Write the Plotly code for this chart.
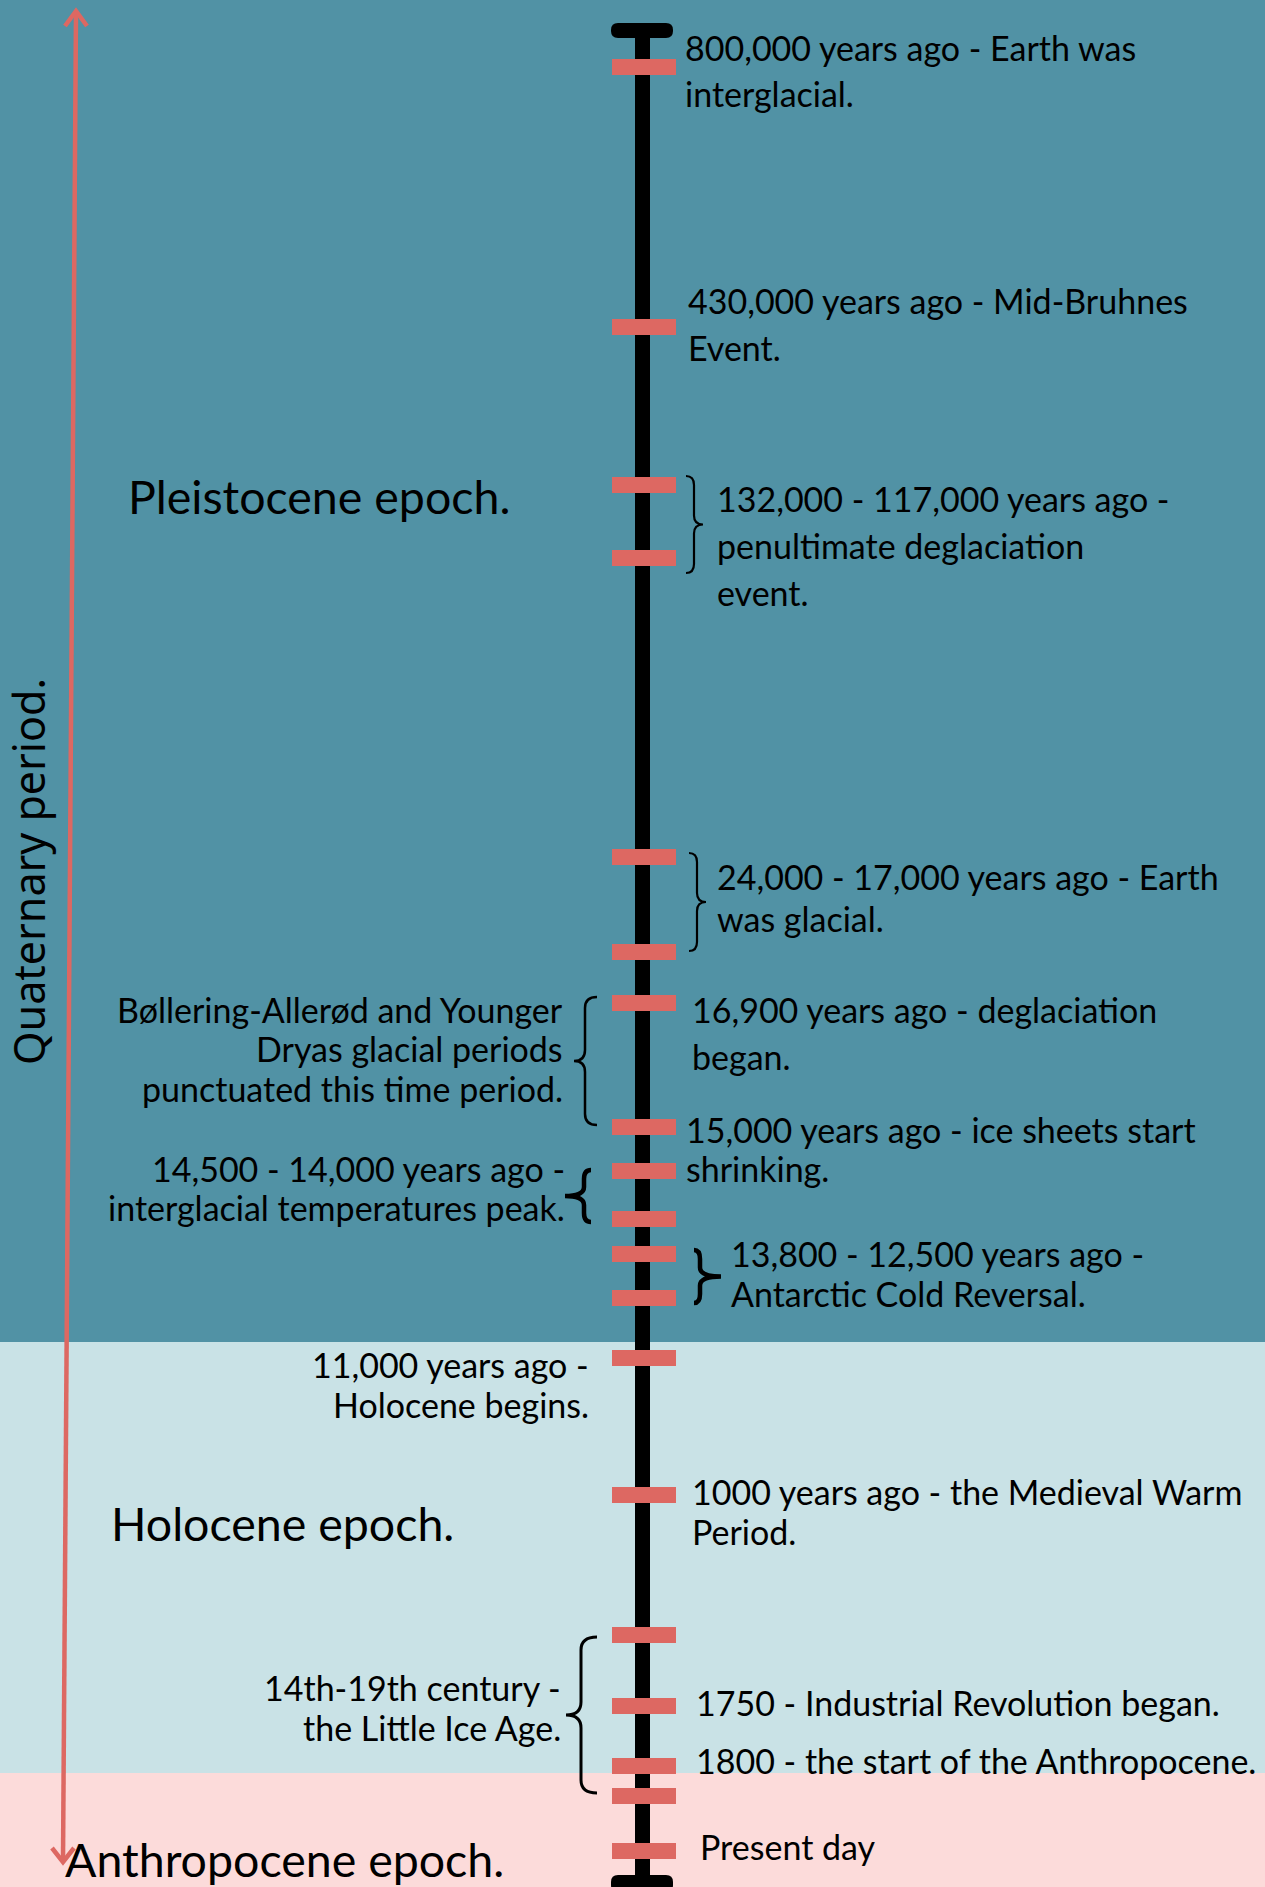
import plotly.graph_objects as go

W, H = 1265, 1887

# ---------------- data ----------------
# positions of event markers along the timeline (timeline units, top = 0)
tick_positions = [67, 327, 485, 558, 857, 952, 1003, 1127, 1171, 1219,
                  1254, 1298, 1358, 1495, 1635, 1706, 1766, 1796, 1851]

epoch_names = ["Pleistocene epoch.", "Holocene epoch.", "Anthropocene epoch."]
epoch_bounds = [0, 1342, 1773, 1887]
epoch_colors = ["#5192A5", "#C9E2E6", "#FCDBDA"]

right_texts = [
    ["800,000 years ago - Earth was", "interglacial."],
    ["430,000 years ago - Mid-Bruhnes", "Event."],
    ["132,000 - 117,000 years ago -", "penultimate deglaciation", "event."],
    ["24,000 - 17,000 years ago - Earth", "was glacial."],
    ["16,900 years ago - deglaciation", "began."],
    ["15,000 years ago - ice sheets start", "shrinking."],
    ["13,800 - 12,500 years ago -", "Antarctic Cold Reversal."],
    ["1000 years ago - the Medieval Warm", "Period."],
    ["1750 - Industrial Revolution began."],
    ["1800 - the start of the Anthropocene."],
    ["Present day"],
]
left_texts = [
    ["Bøllering-Allerød and Younger", "Dryas glacial periods", "punctuated this time period."],
    ["14,500 - 14,000 years ago -", "interglacial temperatures peak."],
    ["11,000 years ago -", "Holocene begins."],
    ["14th-19th century -", "the Little Ice Age."],
]
period_name = "Quaternary period."

# ---------------- layout (positions / styles) ----------------
# (x, first line y, line spacing)
right_layout = [
    (683, 47.5, 45.5), (686, 300.5, 47), (715, 498.5, 47), (715, 876.5, 41.5),
    (690, 1009, 47), (684, 1129, 39), (729, 1253, 40), (690, 1491.5, 40),
    (694, 1702.5, 0), (694, 1760.5, 0), (698, 1846.5, 0),
]
left_layout = [
    (565, 1009, 39.5), (567, 1168.5, 39), (591, 1364, 40), (563, 1687, 40),
]
epoch_label_layout = [(126, 496), (109, 1523), (63, 1859)]

TEXT_FONT = dict(family="Lato, 'Noto Sans', sans-serif", size=34, color="#000000")
BIG_FONT = dict(family="Lato, 'Noto Sans', sans-serif", size=46.5, color="#000000")
RED = "#DD6862"

fig = go.Figure()

# event markers
fig.add_trace(go.Bar(
    y=tick_positions, x=[64] * len(tick_positions), base=612,
    orientation="h", width=16, marker=dict(color=RED, line=dict(width=0)),
    hoverinfo="skip", showlegend=False,
))

shapes = []
# epoch bands
for i in range(len(epoch_names)):
    shapes.append(dict(type="rect", xref="x", yref="y", x0=0, x1=W,
                       y0=epoch_bounds[i], y1=epoch_bounds[i + 1],
                       fillcolor=epoch_colors[i], line=dict(width=0), layer="below"))
# timeline spine
shapes.append(dict(type="line", xref="x", yref="y", x0=642.5, x1=642.5, y0=30, y1=1884,
                   line=dict(color="black", width=15), layer="below"))


def rounded_rect(x0, x1, y0, y1, r):
    return (f"M{x0+r},{y0} L{x1-r},{y0} Q{x1},{y0} {x1},{y0+r} L{x1},{y1-r} "
            f"Q{x1},{y1} {x1-r},{y1} L{x0+r},{y1} Q{x0},{y1} {x0},{y1-r} "
            f"L{x0},{y0+r} Q{x0},{y0} {x0+r},{y0} Z")


for (y0, y1) in [(23, 38), (1875, 1892)]:
    shapes.append(dict(type="path", xref="x", yref="y", path=rounded_rect(611, 673, y0, y1, 7),
                       fillcolor="black", line=dict(width=0), layer="below"))


def brace(x_end, x_body, x_tip, y_top, y_bot, r):
    ym = (y_top + y_bot) / 2
    return (f"M{x_end},{y_top} Q{x_body},{y_top} {x_body},{y_top + r} "
            f"L{x_body},{ym - r} Q{x_body},{ym} {x_tip},{ym} "
            f"Q{x_body},{ym} {x_body},{ym + r} "
            f"L{x_body},{y_bot - r} Q{x_body},{y_bot} {x_end},{y_bot}")


braces = [
    (686, 694, 703, 476, 573, 9, 2.2),
    (689, 697, 706, 853, 951, 9, 2.2),
    (597, 585, 574, 997, 1125, 11, 2.5),
    (591, 584, 565, 1170, 1222, 9, 4.5),
    (694, 700, 721, 1250, 1303, 9, 4.5),
    (597, 581, 566, 1637, 1793, 13, 3),
]
for xe, xb, xt, yt, yb, r, w in braces:
    shapes.append(dict(type="path", xref="x", yref="y", path=brace(xe, xb, xt, yt, yb, r),
                       line=dict(color="black", width=w)))

# double-headed arrow (slightly slanted)
shapes.append(dict(type="line", xref="x", yref="y", x0=76, y0=12, x1=63, y1=1860,
                   line=dict(color=RED, width=4.5)))
shapes.append(dict(type="path", xref="x", yref="y", path="M65,26 L76,11 L87,26",
                   line=dict(color=RED, width=4.5)))
shapes.append(dict(type="path", xref="x", yref="y", path="M52,1848 L63,1862 L74,1848",
                   line=dict(color=RED, width=4.5)))

annotations = []
for lines, (x, y, dy) in zip(right_texts, right_layout):
    for k, t in enumerate(lines):
        annotations.append(dict(x=x, y=y + k * dy, xref="x", yref="y", text=t, showarrow=False,
                                xanchor="left", yanchor="middle", font=TEXT_FONT))
for lines, (x, y, dy) in zip(left_texts, left_layout):
    for k, t in enumerate(lines):
        annotations.append(dict(x=x, y=y + k * dy, xref="x", yref="y", text=t, showarrow=False,
                                xanchor="right", yanchor="middle", font=TEXT_FONT))
for name, (x, y) in zip(epoch_names, epoch_label_layout):
    annotations.append(dict(x=x, y=y, xref="x", yref="y", text=name, showarrow=False,
                            xanchor="left", yanchor="middle", font=BIG_FONT))
annotations.append(dict(x=28, y=872, xref="x", yref="y", text=period_name, showarrow=False,
                        textangle=-90, xanchor="center", yanchor="middle",
                        font=dict(family="'Noto Sans', Lato, sans-serif", size=43, color="#000000")))

fig.update_layout(
    width=W, height=H, margin=dict(l=0, r=0, t=0, b=0),
    paper_bgcolor=epoch_colors[0], plot_bgcolor=epoch_colors[0],
    xaxis=dict(range=[0, W], visible=False, fixedrange=True),
    yaxis=dict(range=[H, 0], visible=False, fixedrange=True),
    shapes=shapes, annotations=annotations, showlegend=False, bargap=0,
)

fig.write_html("out.html", config={"displayModeBar": False},
               post_script="document.body.style.margin='0';document.body.style.overflow='hidden';")
